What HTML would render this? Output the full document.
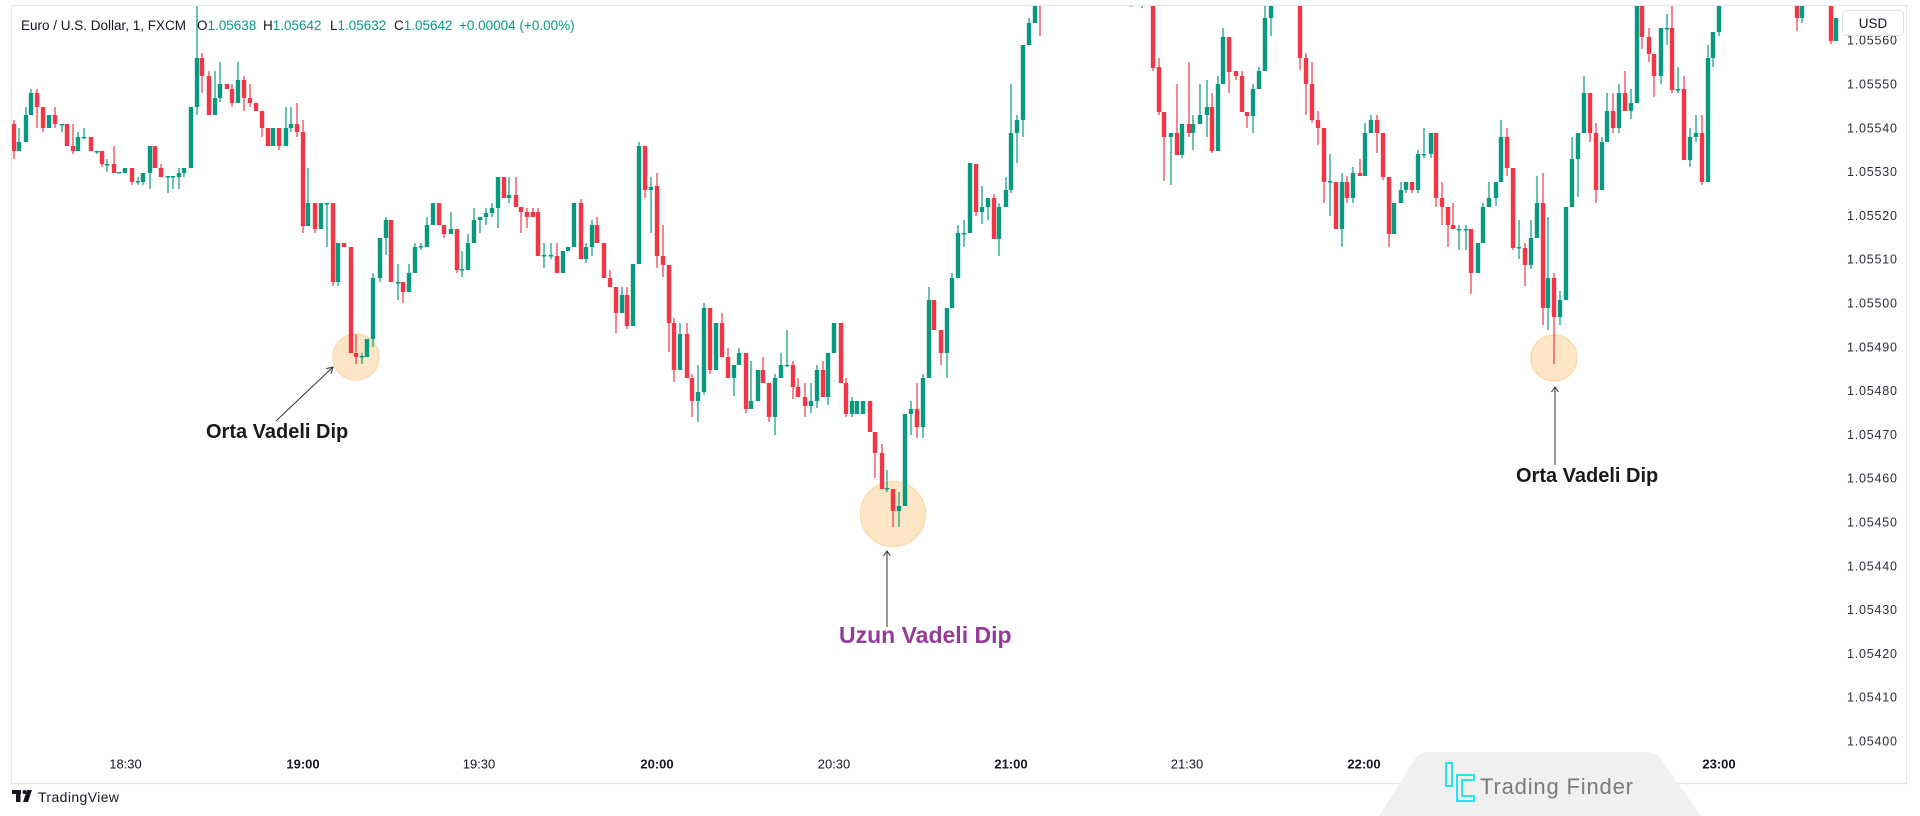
<!DOCTYPE html>
<html><head><meta charset="utf-8"><style>
html,body{margin:0;padding:0;background:#fff;}
svg{display:block;}
text{font-family:"Liberation Sans",Arial,sans-serif;}
</style></head><body>
<svg width="1920" height="816" viewBox="0 0 1920 816" xmlns="http://www.w3.org/2000/svg">
<rect x="0" y="0" width="1920" height="816" fill="#ffffff"/>
<defs><clipPath id="c"><rect x="12" y="6" width="1832" height="776"/></clipPath></defs>
<!-- frame -->
<path d="M11.5 5.5H1906.5V783.5H11.5Z" fill="none" stroke="#e3e5ea" stroke-width="1.2"/>
<!-- circles -->
<circle cx="356" cy="357" r="23" fill="#fde6c6" stroke="#fadcb0" stroke-width="1.5"/>
<circle cx="893" cy="514" r="32.5" fill="#fde6c6" stroke="#fadcb0" stroke-width="1.5"/>
<circle cx="1554" cy="358" r="23" fill="#fde6c6" stroke="#fadcb0" stroke-width="1.5"/>
<g clip-path="url(#c)" fill="none" stroke-linecap="butt">
<path stroke="#f23645" stroke-width="1.2" d="M14 120V159M37 89V128M43 107V132M55 107V128M67 124V146M73 124V154M91 137V151M102 151V167M114 146V173M132 168V185M155 146V168M161 164V177M202 53V93M209 71V115M227 84V89M232 84V107M244 76V111M250 84V107M256 103V111M262 111V137M268 128V146M279 128V150M297 103V137M303 120V233M315 203V233M333 203V286M344 243V247M351 247V353M356 334V364M391 220V282M403 282V303M439 203V225M444 225V238M457 229V273M504 177V198M516 177V207M521 207V233M527 208V228M533 208V217M538 208V256M557 243V273M581 199V259M597 217V243M604 243V278M610 270V287M616 287V333M627 287V329M645 146V198M657 173V268M663 225V277M669 265V352M674 318V382M687 323V378M692 374V417M710 308V374M722 313V357M728 348V378M746 353V413M763 357V383M769 383V422M793 361V399M798 378V397M805 383V417M823 361V397M841 323V383M846 378V417M870 401V432M875 432V478M882 444V489M893 489V527M917 383V438M934 300V330M941 330V365M976 164V216M994 194V239M1040 0V36M1131 0V7M1153 0V71M1159 58V115M1164 112V181M1177 84V155M1189 62V137M1212 93V153M1229 37V93M1236 71V80M1242 71V112M1247 112V128M1300 0V70M1306 53V115M1312 62V123M1318 111V145M1324 128V203M1336 182V229M1347 176V203M1360 159V176M1377 115V153M1383 133V180M1389 177V247M1412 182V193M1436 133V207M1442 182V225M1448 207V247M1453 203V229M1471 229V294M1507 128V176M1513 168V250M1525 243V286M1543 173V325M1554 273V364M1590 93V142M1596 123V203M1613 93V133M1625 71V111M1642 0V49M1649 28V62M1654 54V97M1672 0V93M1684 76V160M1702 115V185M1797 0V31M1831 0V44"/>
<path stroke="#f23645" stroke-width="4.4" d="M14 124V151M37 93V107M43 107V128M55 115V124M67 124V146M73 146V151M91 137V151M102 151V164M114 164V173M132 168V182M155 146V168M161 168V177M202 58V76M209 76V115M227 84V89M232 89V103M244 80V98M250 98V103M256 103V111M262 111V128M268 128V146M279 128V146M297 124V132M303 132V226M315 203V229M333 203V282M344 243V247M351 247V353M356 353V357M391 220V282M403 282V292M439 203V225M444 225V234M457 229V270M504 177V198M516 195V207M521 207V212M527 212V217M533 212V217M538 212V256M557 256V273M581 203V259M597 225V243M604 243V278M610 278V287M616 287V313M627 295V326M645 146V190M657 186V256M663 256V265M669 265V323M674 323V370M687 334V378M692 378V401M710 308V370M722 323V357M728 357V378M746 353V409M763 370V383M769 383V417M793 365V387M798 387V397M805 397V406M823 370V397M841 323V383M846 383V414M870 401V432M875 432V453M882 453V489M893 489V511M917 409V427M934 300V330M941 330V353M976 164V212M994 198V239M1153 0V68M1159 67V112M1164 112V137M1177 133V155M1189 124V133M1212 107V151M1229 37V72M1236 71V76M1242 76V112M1247 112V116M1300 0V58M1306 58V84M1312 84V120M1318 120V128M1324 128V182M1336 182V229M1347 182V198M1360 173V176M1377 120V133M1383 133V177M1389 177V234M1412 182V190M1436 133V198M1442 198V207M1448 207V225M1453 225V229M1471 229V273M1507 137V168M1513 168V248M1525 248V265M1543 203V308M1554 278V317M1590 93V133M1596 133V190M1613 111V128M1625 93V111M1642 0V37M1649 37V54M1654 54V76M1672 28V90M1684 89V160M1702 133V182M1797 0V18M1831 0V41"/>
<path stroke="#089981" stroke-width="1.2" d="M19 128V151M26 107V142M31 89V115M49 115V128M62 124V132M78 132V151M84 128V138M97 151V154M107 159V172M119 172V173M125 168V173M138 177V185M143 173V185M150 146V189M168 176V193M173 176V189M179 168V189M184 168V177M191 107V168M197 5V115M215 71V115M220 62V102M238 62V103M273 128V146M286 107V146M291 107V132M308 168V226M321 203V229M327 203V247M338 243V286M362 353V364M367 339V357M373 273V347M380 238V282M386 217V255M398 264V300M409 264V292M415 243V273M421 243V250M427 217V247M433 203V225M451 212V234M462 251V277M468 234V270M474 208V243M480 217V233M486 208V225M492 203V217M498 177V228M509 177V203M544 243V268M551 243V259M563 251V273M568 247V251M574 203V247M586 243V263M592 220V256M622 287V313M633 264V326M639 142V264M651 177V233M680 323V370M698 365V422M704 303V395M716 323V370M734 365V396M739 348V365M751 361V409M758 370V401M775 374V435M781 353V378M787 330V366M811 383V413M817 365V408M828 353V405M834 323V353M852 397V417M857 401V414M863 401V414M887 470V492M899 492V527M905 414V506M911 401V435M923 374V438M929 287V378M947 308V378M952 273V308M958 225V278M964 220V247M970 163V233M982 186V224M988 198V220M999 203V256M1006 177V207M1011 84V193M1017 115V163M1023 45V137M1029 18V45M1035 0V23M1142 0V8M1171 133V185M1182 124V158M1193 115V150M1200 84V124M1207 80V137M1218 76V151M1223 28V84M1253 84V133M1259 67V89M1265 0V71M1271 0V36M1330 154V216M1342 173V247M1353 167V203M1365 123V176M1371 115V133M1394 203V234M1401 182V203M1406 182V193M1418 150V193M1424 128V158M1431 133V158M1459 225V250M1466 225V250M1478 243V273M1483 203V243M1489 182V207M1496 182V206M1501 120V182M1519 220V259M1531 220V269M1537 176V238M1548 217V330M1560 291V325M1566 207V300M1572 137V207M1578 133V197M1584 76V133M1602 137V190M1607 93V142M1619 84V133M1631 89V119M1637 0V103M1661 28V84M1667 14V45M1678 67V93M1690 128V167M1696 115V142M1708 45V182M1713 32V67M1719 0V36M1802 0V23M1836 18V41"/>
<path stroke="#089981" stroke-width="4.4" d="M19 142V151M26 115V142M31 93V115M49 115V128M62 124V125.5M78 137V151M84 137V138.5M97 151V152.5M107 164V165.5M119 172V173.5M125 168V173M138 181V182.5M143 173V182M150 146V173M168 176V177.5M173 176V177.5M179 173V177M184 168V173M191 107V168M197 58V107M215 98V115M220 84V98M238 80V103M273 128V146M286 128V146M291 124V128M308 203V226M321 203V229M327 203V204.5M338 243V282M362 356V357.5M367 339V357M373 278V339M380 238V278M386 220V238M398 282V283.5M409 273V292M415 247V273M421 246V247.5M427 225V247M433 203V225M451 229V234M462 269V270.5M468 243V270M474 220V243M480 217V220M486 213V217M492 208V213M498 177V208M509 195V198M544 255V256.5M551 255V256.5M563 251V273M568 247V251M574 203V247M586 247V259M592 225V247M622 295V313M633 264V326M639 146V264M651 187V190M680 334V370M698 392V401M704 308V392M716 323V370M734 365V378M739 353V365M751 401V409M758 370V401M775 378V417M781 365V378M787 365V366.5M811 401V406M817 370V401M828 353V397M834 323V353M852 401V414M857 401V414M863 401V414M887 488V489.5M899 506V511M905 414V506M911 409V414M923 378V427M929 300V378M947 308V353M952 278V308M958 233V278M964 233V234.5M970 163V233M982 207V212M988 198V207M999 207V239M1006 190V207M1011 133V190M1017 120V133M1023 45V120M1029 23V45M1035 0V23M1171 133V137M1182 124V155M1193 124V133M1200 115V124M1207 107V115M1218 84V151M1223 37V84M1253 89V116M1259 71V89M1265 18V71M1271 0V18M1330 181V182.5M1342 182V229M1353 173V198M1365 133V176M1371 120V133M1394 203V234M1401 190V203M1406 182V190M1418 154V190M1424 154V155.5M1431 133V154M1459 229V230.5M1466 229V230.5M1478 243V273M1483 207V243M1489 198V207M1496 182V198M1501 137V182M1519 247V248.5M1531 238V265M1537 203V238M1548 278V308M1560 300V317M1566 207V300M1572 159V207M1578 133V159M1584 93V133M1602 142V190M1607 111V142M1619 93V128M1631 103V111M1637 0V103M1661 28V76M1667 28V29.5M1678 89V90.5M1690 137V160M1696 133V137M1708 58V182M1713 32V58M1719 0V32M1802 0V18M1836 18V41"/>
</g>
<!-- header -->
<g font-size="13.5" fill="#131722">
<text x="21" y="30">Euro / U.S. Dollar, 1, FXCM</text>
<text x="197" y="30">O<tspan fill="#089981">1.05638</tspan></text>
<text x="263" y="30">H<tspan fill="#089981">1.05642</tspan></text>
<text x="330" y="30">L<tspan fill="#089981">1.05632</tspan></text>
<text x="394" y="30">C<tspan fill="#089981">1.05642</tspan></text>
<text x="459" y="30" fill="#089981">+0.00004 (+0.00%)</text>
</g>
<!-- annotations -->
<g stroke="#333" stroke-width="1" fill="none">
<path d="M276 421L333 367"/><path d="M326.2 368.6L333 367L331 373.7"/>
<path d="M887 627V551"/><path d="M883.5 556L887 551L890.5 556"/>
<path d="M1555 465V387"/><path d="M1551.5 392L1555 387L1558.5 392"/>
</g>
<g font-weight="bold">
<text x="206" y="438" font-size="20" fill="#1a1a1a">Orta Vadeli Dip</text>
<text x="839" y="643" font-size="23" fill="#923c98">Uzun Vadeli Dip</text>
<text x="1516" y="482" font-size="20" fill="#1a1a1a">Orta Vadeli Dip</text>
</g>
<!-- price axis -->
<g font-size="12.5" fill="#2a2e39">
<text x="1847" y="44.7" textLength="50">1.05560</text>
<text x="1847" y="88.5" textLength="50">1.05550</text>
<text x="1847" y="132.3" textLength="50">1.05540</text>
<text x="1847" y="176.1" textLength="50">1.05530</text>
<text x="1847" y="219.9" textLength="50">1.05520</text>
<text x="1847" y="263.7" textLength="50">1.05510</text>
<text x="1847" y="307.5" textLength="50">1.05500</text>
<text x="1847" y="351.3" textLength="50">1.05490</text>
<text x="1847" y="395.1" textLength="50">1.05480</text>
<text x="1847" y="438.9" textLength="50">1.05470</text>
<text x="1847" y="482.7" textLength="50">1.05460</text>
<text x="1847" y="526.5" textLength="50">1.05450</text>
<text x="1847" y="570.3" textLength="50">1.05440</text>
<text x="1847" y="614.1" textLength="50">1.05430</text>
<text x="1847" y="657.9" textLength="50">1.05420</text>
<text x="1847" y="701.7" textLength="50">1.05410</text>
<text x="1847" y="745.5" textLength="50">1.05400</text>
</g>
<rect x="1842.5" y="10.5" width="61" height="25" rx="4" fill="#ffffff" stroke="#e0e3eb"/>
<text x="1873" y="28" font-size="13.5" fill="#131722" text-anchor="middle">USD</text>
<!-- time axis -->
<g font-size="13" fill="#131722" text-anchor="middle">
<text x="125.5" y="768.5">18:30</text>
<text x="303" y="768.5" font-weight="bold">19:00</text>
<text x="479" y="768.5">19:30</text>
<text x="657" y="768.5" font-weight="bold">20:00</text>
<text x="834" y="768.5">20:30</text>
<text x="1011" y="768.5" font-weight="bold">21:00</text>
<text x="1187" y="768.5">21:30</text>
<text x="1364" y="768.5" font-weight="bold">22:00</text>
<text x="1541" y="768.5">22:30</text>
<text x="1719" y="768.5" font-weight="bold">23:00</text>
</g>
<!-- TradingView logo -->
<g fill="#131722">
<rect x="12" y="790" width="9" height="4"/>
<rect x="16" y="790" width="4.5" height="12"/>
<circle cx="24.5" cy="792" r="2"/>
<path d="M27 790H32L28 802H23Z"/>
</g>
<text x="38" y="802" font-size="14" fill="#131722" textLength="81">TradingView</text>
<!-- watermark -->
<path d="M1379 816L1413 762Q1418 752 1430 752H1646Q1658 752 1663 762L1701 816Z" fill="#f0f0f0"/>
<g fill="none" stroke="#27e3f0" stroke-width="2">
<path d="M1446 763H1452V786H1446Z"/>
<path d="M1474 775H1457V801H1474V796H1462V780H1474Z"/>
</g>
<text x="1480" y="794" font-size="22" fill="#7b7b7b" textLength="153">Trading Finder</text>
</svg>
</body></html>
